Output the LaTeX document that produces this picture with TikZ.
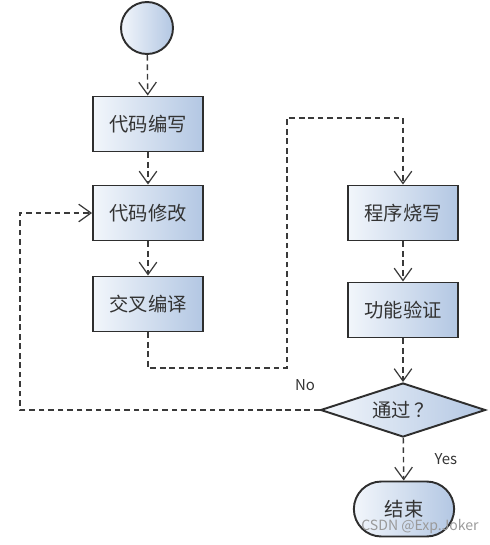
\documentclass[tikz,border=0pt]{standalone}
\usepackage{fontspec}
\setmainfont{Noto Sans CJK SC}
\usetikzlibrary{arrows.meta, shapes.geometric, shapes.misc, positioning, calc}
\definecolor{boxedge}{HTML}{2E2E2E}
\definecolor{boxlight}{HTML}{F2F6FB}
\definecolor{boxdark}{HTML}{B3C7E3}
\definecolor{flowline}{HTML}{3A3A3A}
\definecolor{markgray}{HTML}{9A9A9A}

\begin{document}
\begin{tikzpicture}[x=0.02cm, y=-0.02cm,
    stepbox/.style={draw=boxedge, line width=1.1pt, left color=boxlight, right color=boxdark,
      minimum width=2.2cm, minimum height=1.1cm, font=\fontsize{11}{13}\selectfont, text=black!80},
    startdot/.style={circle, draw=boxedge, line width=1.1pt, left color=boxlight, right color=boxdark,
      minimum size=1.04cm, inner sep=0pt},
    checkbox/.style={diamond, aspect=3, draw=boxedge, line width=1.1pt, left color=boxlight, right color=boxdark,
      minimum width=3.3cm, minimum height=1.08cm, inner sep=1pt, font=\fontsize{11}{13}\selectfont, text=black!80},
    endbox/.style={rounded rectangle, draw=boxedge, line width=1.1pt, left color=boxlight, right color=boxdark,
      minimum width=2.24cm, minimum height=1.1cm, font=\fontsize{11}{13}\selectfont, text=black!80},
    flow/.style={draw=flowline, line width=0.8pt, dash pattern=on 3.2pt off 2.2pt,
      -{Straight Barb[length=7pt, width=10pt, line width=0.7pt]}},
    tag/.style={font=\fontsize{8.5}{10}\selectfont, text=black!80}]
  \useasboundingbox (0,0) rectangle (490,545);

  % Linke Spalte
  \node[startdot] (start) at (147,28) {};
  \node[stepbox] (write) at (148,124) {代码编写};
  \node[stepbox] (modify) at (148,213) {代码修改};
  \node[stepbox] (cross) at (148,304) {交叉编译};

  % Rechte Spalte
  \node[stepbox] (burn) at (403,213) {程序烧写};
  \node[stepbox] (verify) at (403,310) {功能验证};
  \node[checkbox] (check) at (403,410) {通过\,？};
  \node[endbox] (finish) at (404,509) {结束};

  % Knickpunkte
  \coordinate (low) at (287,368);
  \coordinate (high) at (287,118);
  \coordinate (back) at (20,410);

  % Verbindungen
  \draw[flow] (start) -- (write);
  \draw[flow] (write) -- (modify);
  \draw[flow] (modify) -- (cross);
  \draw[flow] (cross.south) |- (low) -- (high) -| (burn.north);
  \draw[flow] (burn) -- (verify);
  \draw[flow] (verify) -- (check);
  \draw[flow] (check) -- node[tag, right=14pt, pos=0.5] (yes) {Yes} (finish);
  \draw[flow] (check.west) -- (back) |- (modify.west);
  \node[tag] (no) at (305,385) {No};

  % Wasserzeichen
  \node[font=\fontsize{8}{9}\selectfont, text=markgray] (mark) at (420,527) {CSDN @Exp.Joker};
\end{tikzpicture}
\end{document}
